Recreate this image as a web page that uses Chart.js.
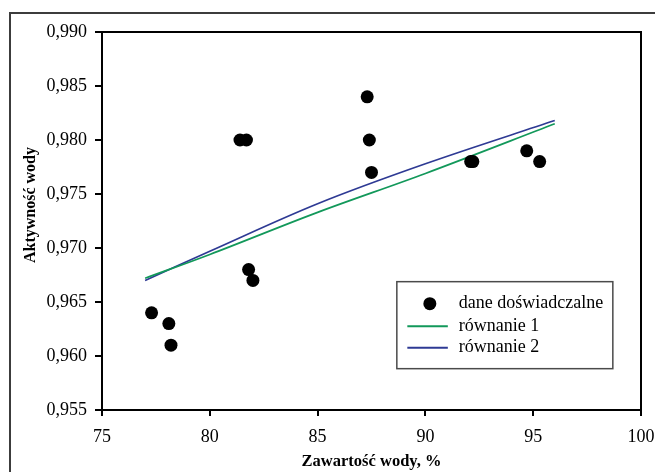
<!DOCTYPE html>
<html>
<head>
<meta charset="utf-8">
<script src="https://cdn.jsdelivr.net/npm/chart.js@4.4.1/dist/chart.umd.min.js"></script>
<style>
  html, body { margin: 0; padding: 0; background: #fff; }
  #wrap { position: relative; width: 655px; height: 472px; overflow: hidden; }
  #frame { position: absolute; left: 9px; top: 12px; width: 700px; height: 520px;
           border-top: 2px solid #3c3c3c; border-left: 2px solid #3c3c3c; pointer-events: none; }
  canvas { position: absolute; left: 0; top: 0; }
</style>
</head>
<body>
<div id="wrap">
  <canvas id="c" width="655" height="472"></canvas>
  <div id="frame"></div>
</div>
<script>
// ---- data ----
const waterContent = [77.3, 78.1, 78.2, 81.4, 81.7, 81.8, 82.0, 87.3, 87.4, 87.5, 92.1, 92.2, 94.7, 95.3];
const waterActivity = [0.964, 0.963, 0.961, 0.980, 0.980, 0.968, 0.967, 0.984, 0.980, 0.977, 0.978, 0.978, 0.979, 0.978];

const modelX = [77, 80, 85, 90, 96];
const equation1 = [0.9672, 0.9694, 0.9733, 0.9769, 0.9815];
const equation2 = [0.9670, 0.9697, 0.9741, 0.9778, 0.9818];

const xTickValues = [75, 80, 85, 90, 95, 100];
const xTickLabels = ['75', '80', '85', '90', '95', '100'];
const yTickValues = [0.955, 0.960, 0.965, 0.970, 0.975, 0.980, 0.985, 0.990];
const yTickLabels = ['0,955', '0,960', '0,965', '0,970', '0,975', '0,980', '0,985', '0,990'];

const seriesLabels = ['dane doświadczalne', 'równanie 1', 'równanie 2'];
const xTitle = 'Zawartość wody, %';
const yTitle = 'Aktywność wody';

const SERIF = '"Liberation Serif", "Times New Roman", serif';
const GREEN = '#12985a';
const BLUE = '#2e3a94';

const pointsData = waterContent.map((x, i) => ({ x: x, y: waterActivity[i] }));
const eq1Data = modelX.map((x, i) => ({ x: x, y: equation1[i] }));
const eq2Data = modelX.map((x, i) => ({ x: x, y: equation2[i] }));

// Legend box drawn inside the plot area, from dataset labels/styles
const boxLegend = {
  id: 'boxLegend',
  afterDraw(chart) {
    const ctx = chart.ctx;
    const ca = chart.chartArea;
    const x0 = ca.left + (ca.right - ca.left) * 0.547;
    const y0 = ca.top + (ca.bottom - ca.top) * 0.6605;
    const w = 216, h = 87;
    ctx.save();
    ctx.fillStyle = '#fff';
    ctx.fillRect(x0, y0, w, h);
    ctx.strokeStyle = '#4a4a4a';
    ctx.lineWidth = 1.5;
    ctx.strokeRect(x0, y0, w, h);
    ctx.font = '18px ' + SERIF;
    ctx.textBaseline = 'middle';
    ctx.fillStyle = '#000';
    const rows = [y0 + 22, y0 + 44.5, y0 + 66];
    chart.data.datasets.forEach((ds, i) => {
      const yy = rows[i];
      if (i === 0) {
        ctx.beginPath();
        ctx.arc(x0 + 33, yy, 6.5, 0, Math.PI * 2);
        ctx.fillStyle = ds.backgroundColor;
        ctx.fill();
      } else {
        ctx.beginPath();
        ctx.moveTo(x0 + 10.5, yy);
        ctx.lineTo(x0 + 51, yy);
        ctx.strokeStyle = ds.borderColor;
        ctx.lineWidth = 2;
        ctx.stroke();
      }
      ctx.fillStyle = '#000';
      ctx.fillText(ds.label, x0 + 62, yy);
    });
    ctx.restore();
  }
};

// Box around the plot area (top and right sides)
const plotBox = {
  id: 'plotBox',
  afterDatasetsDraw(chart) {
    const ctx = chart.ctx;
    const ca = chart.chartArea;
    ctx.save();
    ctx.strokeStyle = '#000';
    ctx.lineWidth = 2;
    ctx.beginPath();
    ctx.moveTo(ca.left, ca.top);
    ctx.lineTo(ca.right, ca.top);
    ctx.lineTo(ca.right, ca.bottom);
    ctx.stroke();
    ctx.restore();
  }
};

new Chart(document.getElementById('c'), {
  type: 'scatter',
  data: {
    datasets: [
      {
        label: seriesLabels[0],
        data: pointsData,
        backgroundColor: '#000',
        borderColor: '#000',
        pointRadius: 6.5,
        pointHoverRadius: 6.5,
        borderWidth: 0,
        showLine: false,
        order: 0
      },
      {
        label: seriesLabels[1],
        data: eq1Data,
        showLine: true,
        borderColor: GREEN,
        backgroundColor: GREEN,
        borderWidth: 1.7,
        pointRadius: 0,
        tension: 0.35,
        order: 1
      },
      {
        label: seriesLabels[2],
        data: eq2Data,
        showLine: true,
        borderColor: BLUE,
        backgroundColor: BLUE,
        borderWidth: 1.7,
        pointRadius: 0,
        tension: 0.35,
        order: 2
      }
    ]
  },
  options: {
    responsive: false,
    animation: false,
    events: [],
    layout: { padding: { top: 32, right: 14, left: 0, bottom: 0 } },
    plugins: {
      legend: { display: false },
      tooltip: { enabled: false }
    },
    scales: {
      x: {
        type: 'linear',
        min: 75, max: 100,
        afterFit(scale) { scale.height = 62; scale.paddingRight = 0; scale.paddingLeft = 0; },
        afterBuildTicks(scale) { scale.ticks = xTickValues.map(v => ({ value: v })); },
        ticks: {
          color: '#000',
          font: { family: SERIF, size: 18 },
          padding: 10,
          maxRotation: 0,
          callback: (v) => xTickLabels[xTickValues.indexOf(v)]
        },
        grid: { drawOnChartArea: false, drawTicks: true, tickLength: 6, color: '#000', lineWidth: 2 },
        border: { display: true, color: '#000', width: 2 },
        title: {
          display: true,
          text: xTitle,
          color: '#000',
          font: { family: SERIF, size: 16.5, weight: 'bold' },
          padding: { top: 0, bottom: 0 }
        }
      },
      y: {
        type: 'linear',
        min: 0.955, max: 0.990,
        afterFit(scale) { scale.width = 102; },
        afterBuildTicks(scale) { scale.ticks = yTickValues.map(v => ({ value: v })); },
        ticks: {
          color: '#000',
          font: { family: SERIF, size: 18 },
          padding: 8,
          callback: (v) => {
            const i = yTickValues.findIndex(t => Math.abs(t - v) < 1e-9);
            return i >= 0 ? yTickLabels[i] : '';
          }
        },
        grid: { drawOnChartArea: false, drawTicks: true, tickLength: 7, color: '#000', lineWidth: 2 },
        border: { display: true, color: '#000', width: 2 },
        title: {
          display: true,
          text: '        ' + yTitle,
          color: '#000',
          font: { family: SERIF, size: 16, weight: 'bold' },
          padding: { top: 21, bottom: 0 }
        }
      }
    }
  },
  plugins: [plotBox, boxLegend]
});
</script>
</body>
</html>
